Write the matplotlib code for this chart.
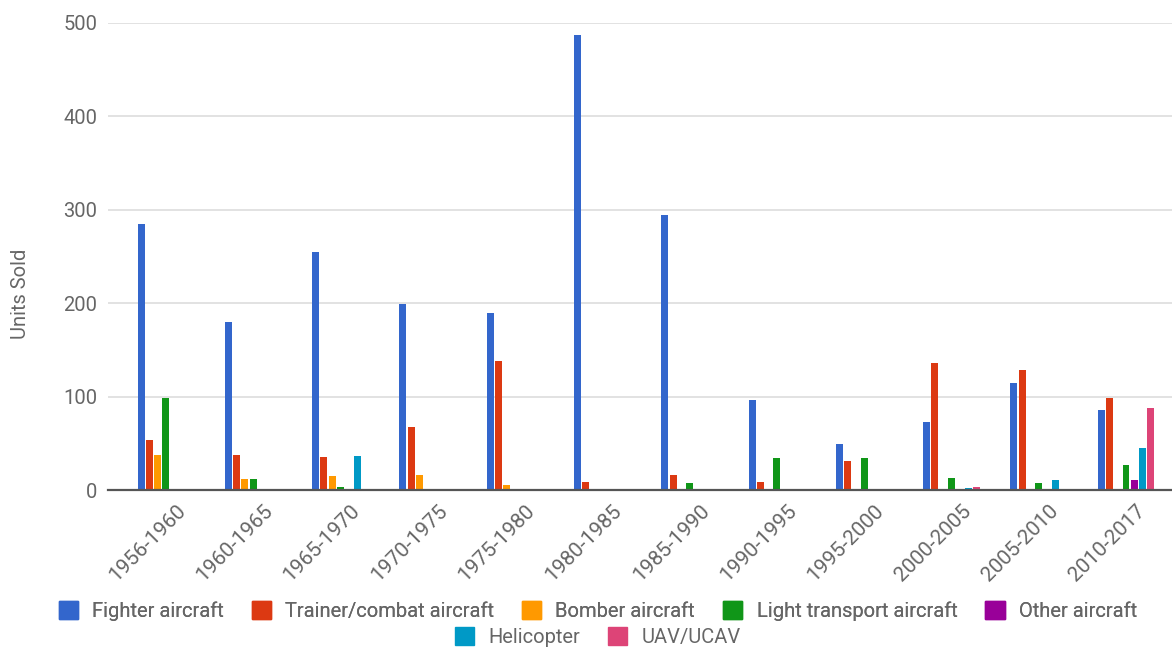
import matplotlib
matplotlib.use("Agg")
import matplotlib.pyplot as plt
import matplotlib.transforms as mtransforms
import numpy as np
from matplotlib.patches import Patch

periods = ["1956-1960", "1960-1965", "1965-1970", "1970-1975", "1975-1980", "1980-1985",
           "1985-1990", "1990-1995", "1995-2000", "2000-2005", "2005-2010", "2010-2017"]

fighter = [285, 180, 255, 199, 190, 487, 294, 96, 49, 73, 115, 86]
trainer = [53, 38, 35, 67, 138, 9, 16, 9, 31, 136, 129, 98]
bomber = [37, 12, 15, 16, 5, 0, 1, 0, 0, 0, 0, 0]
light_transport = [98, 12, 3, 1, 0, 0, 7, 34, 34, 13, 7, 27]
other = [0, 0, 0, 0, 0, 0, 0, 0, 0, 0, 0, 11]
helicopter = [0, 0, 36, 0, 0, 0, 0, 0, 1, 2, 11, 45]
uav = [0, 0, 0, 0, 0, 0, 0, 0, 0, 3, 0, 88]

series_names = ["Fighter aircraft", "Trainer/combat aircraft", "Bomber aircraft",
                "Light transport aircraft", "Other aircraft", "Helicopter", "UAV/UCAV"]
series = [fighter, trainer, bomber, light_transport, other, helicopter, uav]
colors = ["#3366CC", "#DC3912", "#FF9900", "#109618", "#990099", "#0099C6", "#DD4477"]

plt.rcParams['font.family'] = ['Roboto', 'DejaVu Sans']
text_color = "#666666"
fs = 14.5

fig = plt.figure(figsize=(11.72, 6.47), dpi=100)
ax = fig.add_axes([108/1172, 1 - 490/647, 1 - 108/1172, (490 - 23)/647])

n = len(series)
x = np.arange(len(periods))
slot = 0.095
width = 0.08
for i, (vals, c) in enumerate(zip(series, colors)):
    ax.bar(x + (i - (n - 1) / 2) * slot, vals, width=width, color=c, zorder=3)

ax.set_xlim(-0.664, len(periods) - 1 + 0.527)
ax.set_ylim(0, 500)
ax.set_yticks([0, 100, 200, 300, 400, 500])
ax.yaxis.grid(True, color="#dddddd", linewidth=1.2, zorder=0)
ax.set_axisbelow(True)
for s in ["top", "right", "left"]:
    ax.spines[s].set_visible(False)
ax.spines["bottom"].set_color("#555555")
ax.spines["bottom"].set_linewidth(1.6)
ax.spines["bottom"].set_zorder(4)
ax.tick_params(axis="y", length=0, labelsize=fs, labelcolor=text_color, pad=7.5)
ax.tick_params(axis="x", length=0, labelsize=fs + 0.5, labelcolor=text_color, pad=8)
ax.set_xticks(x)
ax.set_xticklabels(periods, rotation=45, ha="right", rotation_mode="anchor")
offset = mtransforms.ScaledTranslation(10/100, 0, fig.dpi_scale_trans)
for lab in ax.get_xticklabels():
    lab.set_transform(lab.get_transform() + offset)
ax.set_ylabel("Units Sold", fontsize=fs, color=text_color, va="center")
ax.yaxis.set_label_coords(-0.0818, 0.42)

handles = [Patch(facecolor=c, edgecolor=c) for c in colors]
common = dict(loc="center", frameon=False, fontsize=fs, labelcolor=text_color,
              handlelength=0.95, handleheight=0.95, handletextpad=0.7, columnspacing=1.4)
leg1 = fig.legend(handles[:5], series_names[:5], bbox_to_anchor=(0.51, 1 - 611/647),
                  ncol=5, **common)
fig.add_artist(leg1)
leg2 = fig.legend(handles[5:], series_names[5:], bbox_to_anchor=(0.51, 1 - 637/647),
                  ncol=2, **common)

fig.savefig("out.png", dpi=100, facecolor="white")
